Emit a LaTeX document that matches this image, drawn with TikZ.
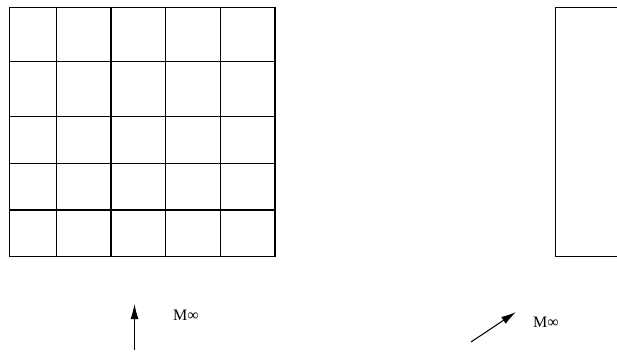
\documentclass[tikz,border=0pt]{standalone}
\usepackage{fontspec}
\setmainfont{Liberation Serif}
\usetikzlibrary{arrows.meta}

\tikzset{
  meshline/.style={draw=black, line width=1.1pt},
  flow/.style={-{Latex[length=15pt,width=8pt]}, color=black, line width=1pt},
  machlabel/.style={font=\fontsize{16}{18}\selectfont, inner sep=0pt, anchor=base west}
}

\begin{document}
\begin{tikzpicture}[x=1pt,y=-1pt]
\useasboundingbox (0,0) rectangle (617,354);

% mesh
\foreach \x in {9.7,56.7,111,165.7,220.3,275}
  \draw[meshline] (\x,7.3)--(\x,256.7);
\foreach \y in {7.3,61.7,116.3,163.3,210,256.7}
  \draw[meshline] (9.7,\y)--(275,\y);

% body on the right
\draw[meshline] (555.7,7.3) rectangle (640,256.7);

% free stream
\coordinate (up tail) at (134.5,350);
\coordinate (up head) at (134.5,304);
\coordinate (diag tail) at (471,342);
\coordinate (diag head) at (516,312);

\draw[flow] (up tail)--(up head);
\draw[flow] (diag tail)--(diag head);

\node(mach up)[machlabel] at (173,320) {M∞};
\node(mach diag)[machlabel] at (533,327) {M∞};
\end{tikzpicture}
\end{document}
